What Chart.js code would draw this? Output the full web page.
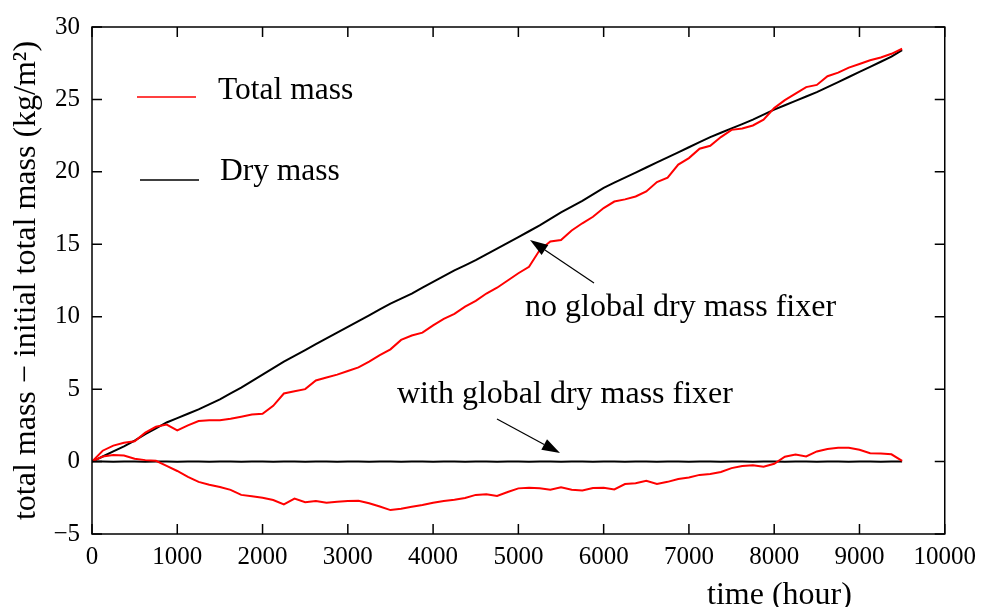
<!DOCTYPE html>
<html>
<head>
<meta charset="utf-8">
<script src="https://cdn.jsdelivr.net/npm/chart.js@4.4.1/dist/chart.umd.min.js"></script>
<style>
  html, body { margin: 0; padding: 0; background: #fff; }
  #chart { display: block; }
</style>
</head>
<body>
<canvas id="chart" width="984" height="607"></canvas>
<script>
// time axis (hours), sampled every 125 h
const hours = [0, 125, 250, 375, 500, 625, 750, 875, 1000, 1125,
  1250, 1375, 1500, 1625, 1750, 1875, 2000, 2125, 2250, 2375,
  2500, 2625, 2750, 2875, 3000, 3125, 3250, 3375, 3500, 3625,
  3750, 3875, 4000, 4125, 4250, 4375, 4500, 4625, 4750, 4875,
  5000, 5125, 5250, 5375, 5500, 5625, 5750, 5875, 6000, 6125,
  6250, 6375, 6500, 6625, 6750, 6875, 7000, 7125, 7250, 7375,
  7500, 7625, 7750, 7875, 8000, 8125, 8250, 8375, 8500, 8625,
  8750, 8875, 9000, 9125, 9250, 9375, 9500];

// no global dry mass fixer
const totalNoFixer = [0, 0.75, 1.1, 1.3, 1.4, 2.0, 2.4, 2.55, 2.15, 2.5,
  2.8, 2.85, 2.85, 2.95, 3.1, 3.25, 3.3, 3.85, 4.7, 4.85,
  5.0, 5.6, 5.8, 6.0, 6.25, 6.5, 6.9, 7.35, 7.75, 8.4,
  8.7, 8.9, 9.4, 9.85, 10.2, 10.7, 11.1, 11.6, 12.0, 12.5,
  13.0, 13.45, 14.6, 15.2, 15.3, 15.95, 16.45, 16.9, 17.5, 17.95,
  18.1, 18.3, 18.65, 19.3, 19.6, 20.5, 20.95, 21.6, 21.8, 22.4,
  22.9, 23.0, 23.2, 23.6, 24.4, 24.95, 25.4, 25.85, 26.0, 26.6,
  26.85, 27.2, 27.45, 27.7, 27.9, 28.15, 28.5];

const dryNoFixer = [0, 0.35, 0.7, 1.05, 1.45, 1.9, 2.3, 2.7, 3.0, 3.3,
  3.6, 3.95, 4.3, 4.7, 5.1, 5.55, 6.0, 6.45, 6.9, 7.3,
  7.7, 8.1, 8.5, 8.9, 9.3, 9.7, 10.1, 10.5, 10.9, 11.25,
  11.6, 12.0, 12.4, 12.8, 13.2, 13.55, 13.9, 14.3, 14.7, 15.1,
  15.5, 15.9, 16.3, 16.75, 17.2, 17.6, 18.0, 18.45, 18.9, 19.25,
  19.6, 19.95, 20.3, 20.65, 21.0, 21.35, 21.7, 22.05, 22.4, 22.7,
  23.0, 23.3, 23.6, 23.95, 24.3, 24.6, 24.9, 25.2, 25.5, 25.85,
  26.2, 26.55, 26.9, 27.25, 27.6, 27.95, 28.4];

// with global dry mass fixer
const totalFixer = [0, 0.35, 0.45, 0.42, 0.2, 0.1, 0.05, -0.3, -0.65, -1.05,
  -1.4, -1.6, -1.75, -1.95, -2.3, -2.4, -2.5, -2.65, -2.95, -2.55,
  -2.8, -2.72, -2.85, -2.78, -2.72, -2.7, -2.88, -3.1, -3.35, -3.25,
  -3.12, -3.0, -2.85, -2.72, -2.63, -2.52, -2.3, -2.25, -2.38, -2.1,
  -1.85, -1.8, -1.85, -1.95, -1.78, -1.95, -2.0, -1.82, -1.8, -1.92,
  -1.55, -1.5, -1.32, -1.55, -1.4, -1.2, -1.1, -0.92, -0.85, -0.72,
  -0.45, -0.3, -0.25, -0.35, -0.15, 0.34, 0.48, 0.35, 0.7, 0.87,
  0.95, 0.96, 0.82, 0.58, 0.56, 0.5, 0.05];

const dryFixer = [0, 0.01, -0.01, 0.01, 0, -0.01, 0.01, 0, -0.01, 0.01,
  0, -0.01, 0.01, 0, -0.01, 0.01, 0, -0.01, 0.01, 0,
  -0.01, 0.01, 0, -0.01, 0.01, 0, -0.01, 0.01, 0, -0.01,
  0.01, 0, -0.01, 0.01, 0, -0.01, 0.01, 0, -0.01, 0.01,
  0, -0.01, 0.01, 0, -0.01, 0.01, 0, -0.01, 0.01, 0,
  -0.01, 0.01, 0, -0.01, 0.01, 0, -0.01, 0.01, 0, -0.01,
  0.01, 0, -0.01, 0.01, 0, -0.01, 0.01, 0, -0.01, 0.01,
  0, -0.01, 0.01, 0, -0.01, 0.01, 0];

const xTicks = [0, 1000, 2000, 3000, 4000, 5000, 6000, 7000, 8000, 9000, 10000];
const yTicks = [-5, 0, 5, 10, 15, 20, 25, 30];

const SERIF = "'Liberation Serif', 'Times New Roman', serif";
const RED = "#ff0000";
const BLACK = "#000000";

function toPoints(values) {
  return values.map((v, i) => ({ x: hours[i], y: v }));
}

function arrow(ctx, x1, y1, x2, y2) {
  const ang = Math.atan2(y2 - y1, x2 - x1);
  const len = 18, half = 6;
  const bx = x2 - len * Math.cos(ang), by = y2 - len * Math.sin(ang);
  ctx.beginPath();
  ctx.moveTo(x1, y1);
  ctx.lineTo(bx, by);
  ctx.lineWidth = 1.2;
  ctx.strokeStyle = BLACK;
  ctx.stroke();
  ctx.beginPath();
  ctx.moveTo(x2, y2);
  ctx.lineTo(bx + half * Math.sin(ang), by - half * Math.cos(ang));
  ctx.lineTo(bx - half * Math.sin(ang), by + half * Math.cos(ang));
  ctx.closePath();
  ctx.fillStyle = BLACK;
  ctx.fill();
}

// frame, inward ticks on all sides, legend and annotations
const decorations = {
  id: "decorations",
  afterDraw(chart) {
    const ctx = chart.ctx;
    const area = chart.chartArea;
    const xs = chart.scales.x, ys = chart.scales.y;
    const tick = 10;
    ctx.save();
    ctx.strokeStyle = BLACK;
    ctx.lineWidth = 1.5;
    ctx.strokeRect(area.left, area.top, area.right - area.left, area.bottom - area.top);
    ctx.beginPath();
    xTicks.forEach(v => {
      const px = xs.getPixelForValue(v);
      ctx.moveTo(px, area.bottom); ctx.lineTo(px, area.bottom - tick);
      ctx.moveTo(px, area.top); ctx.lineTo(px, area.top + tick);
    });
    yTicks.forEach(v => {
      const py = ys.getPixelForValue(v);
      ctx.moveTo(area.left, py); ctx.lineTo(area.left + tick, py);
      ctx.moveTo(area.right, py); ctx.lineTo(area.right - tick, py);
    });
    ctx.stroke();

    // legend
    ctx.lineWidth = 1.5;
    ctx.strokeStyle = RED;
    ctx.beginPath(); ctx.moveTo(137, 97); ctx.lineTo(196, 97); ctx.stroke();
    ctx.strokeStyle = BLACK;
    ctx.beginPath(); ctx.moveTo(140, 180); ctx.lineTo(199, 180); ctx.stroke();
    ctx.fillStyle = BLACK;
    ctx.textBaseline = "alphabetic";
    ctx.textAlign = "left";
    ctx.font = "31.5px " + SERIF;
    ctx.fillText("Total mass", 218, 99);
    ctx.fillText("Dry mass", 220, 180);

    // annotations
    ctx.font = "32px " + SERIF;
    ctx.fillText("no global dry mass fixer", 525, 316);
    ctx.fillText("with global dry mass fixer", 397, 403);
    arrow(ctx, 594, 283, 530, 240);
    arrow(ctx, 497, 419, 560, 453);

    // x axis title
    ctx.fillText("time (hour)", 707, 604);
    ctx.restore();
  }
};

new Chart(document.getElementById("chart"), {
  type: "line",
  data: {
    datasets: [
      {
        label: "Total mass (with fixer)",
        data: toPoints(totalFixer),
        borderColor: RED,
        borderWidth: 2,
        pointRadius: 0,
        tension: 0,
      },
      {
        label: "Dry mass (with fixer)",
        data: toPoints(dryFixer),
        borderColor: BLACK,
        borderWidth: 2,
        pointRadius: 0,
        tension: 0,
      },
      {
        label: "Total mass",
        data: toPoints(totalNoFixer),
        borderColor: RED,
        borderWidth: 2,
        pointRadius: 0,
        tension: 0,
      },
      {
        label: "Dry mass",
        data: toPoints(dryNoFixer),
        borderColor: BLACK,
        borderWidth: 2,
        pointRadius: 0,
        tension: 0,
      },
    ],
  },
  options: {
    responsive: false,
    animation: false,
    layout: {
      padding: { left: 0, right: 37, top: 24, bottom: 0 },
    },
    plugins: {
      legend: { display: false },
      tooltip: { enabled: false },
    },
    scales: {
      x: {
        type: "linear",
        min: 0,
        max: 10000,
        afterFit: function (scale) {
          scale.height = 73;
        },
        afterBuildTicks: function (scale) {
          scale.ticks = xTicks.map(v => ({ value: v }));
        },
        grid: { display: false, drawTicks: false },
        border: { display: false },
        ticks: {
          color: BLACK,
          padding: 8,
          maxRotation: 0,
          font: { family: SERIF, size: 25 },
          callback: function (value) {
            return String(value);
          },
        },
      },
      y: {
        min: -5,
        max: 30,
        afterFit: function (scale) {
          scale.width = 92;
        },
        afterBuildTicks: function (scale) {
          scale.ticks = yTicks.map(v => ({ value: v }));
        },
        grid: { display: false, drawTicks: false },
        border: { display: false },
        ticks: {
          color: BLACK,
          padding: 12,
          font: { family: SERIF, size: 25 },
          callback: function (value) {
            return String(value).replace("-", "\u2212");
          },
        },
        title: {
          display: true,
          text: "total mass \u2212 initial total mass (kg/m\u00b2)",
          color: BLACK,
          padding: { top: 7, bottom: 0 },
          font: { family: SERIF, size: 32 },
        },
      },
    },
  },
  plugins: [decorations],
});
</script>
</body>
</html>
